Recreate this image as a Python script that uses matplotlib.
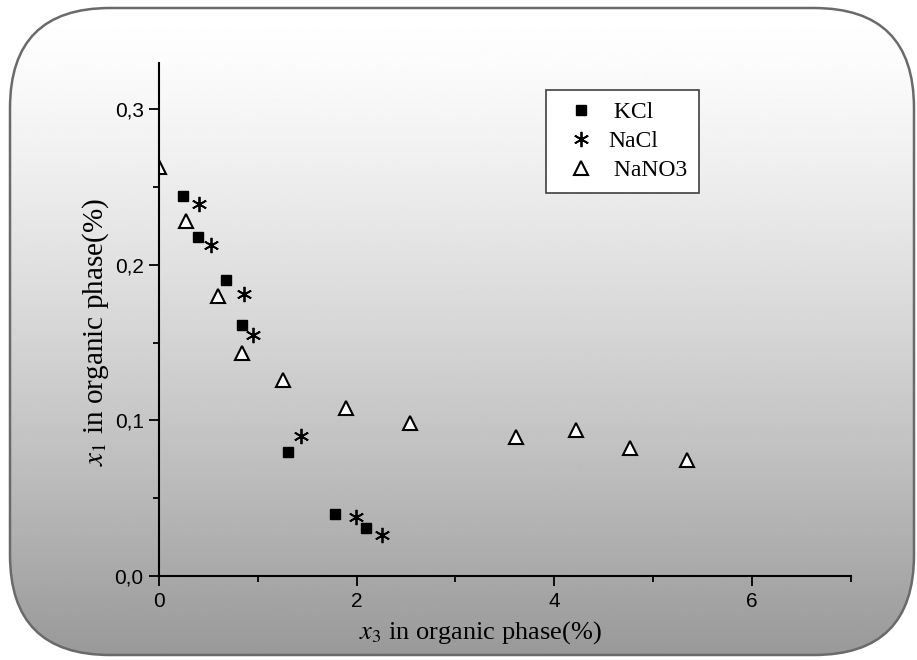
import numpy as np
import matplotlib
matplotlib.use("Agg")
import matplotlib.pyplot as plt
from matplotlib.patches import FancyBboxPatch
from matplotlib.ticker import FuncFormatter, MultipleLocator

# data (x3 %, x1 %)
kcl_x = [0.24, 0.39, 0.68, 0.84, 1.31, 1.78, 2.09]
kcl_y = [0.2445, 0.218, 0.190, 0.161, 0.0795, 0.040, 0.031]

nacl_x = [0.40, 0.53, 0.86, 0.95, 1.44, 1.99, 2.26]
nacl_y = [0.239, 0.213, 0.181, 0.155, 0.0897, 0.038, 0.026]

nano3_x = [0.0, 0.27, 0.60, 0.84, 1.26, 1.89, 2.54, 3.61, 4.22, 4.77, 5.34]
nano3_y = [0.263, 0.228, 0.180, 0.1435, 0.1257, 0.108, 0.0985, 0.0893, 0.094, 0.0822, 0.0743]

legend_labels = [" KCl", "NaCl", " NaNO3"]

plt.rcParams['mathtext.fontset'] = 'stix'

W, H = 917, 660
fig = plt.figure(figsize=(W / 100, H / 100), dpi=100)
fig.patch.set_facecolor('white')

# rounded frame with grey gradient
bg = fig.add_axes([0, 0, 1, 1])
bg.set_xlim(0, W)
bg.set_ylim(H, 0)
bg.axis('off')
t = np.linspace(0, 1, 256)
grad = (1.0 - 0.40 * t ** 1.3).reshape(-1, 1)
img = bg.imshow(grad, cmap='gray', vmin=0, vmax=1, extent=[10, 914, 655, 8],
                aspect='auto', interpolation='bilinear')
frame = FancyBboxPatch((10, 8), 904, 647, boxstyle="round,pad=0,rounding_size=100",
                       facecolor='none', edgecolor='#6a6a6a', linewidth=1.8)
bg.add_patch(frame)
img.set_clip_path(frame)

ax = fig.add_axes([0.1734, 0.1277, 0.7542, 0.7773])
ax.set_facecolor('none')

ax.plot(kcl_x, kcl_y, linestyle='none', marker='s', markersize=7.5,
        color='black', label=legend_labels[0])
ax.plot(nacl_x, nacl_y, linestyle='none', marker=(6, 2, 0), markersize=11,
        markeredgewidth=1.3, color='black', label=legend_labels[1])
ax.plot(nano3_x, nano3_y, linestyle='none', marker='^', markersize=9.5,
        markerfacecolor='white', markeredgecolor='black', markeredgewidth=1.5,
        label=legend_labels[2])

ax.set_xlim(0, 7)
ax.set_ylim(0, 0.33)
ax.xaxis.set_major_locator(MultipleLocator(2))
ax.xaxis.set_minor_locator(MultipleLocator(1))
ax.yaxis.set_major_locator(MultipleLocator(0.1))
ax.yaxis.set_minor_locator(MultipleLocator(0.05))

comma = FuncFormatter(lambda v, p: f"{v:.1f}".replace('.', ','))
ax.yaxis.set_major_formatter(comma)
ax.xaxis.set_major_formatter(FuncFormatter(lambda v, p: f"{v:.0f}"))

for s in ['top', 'right']:
    ax.spines[s].set_visible(False)
for s in ['left', 'bottom']:
    ax.spines[s].set_linewidth(1.5)

ax.tick_params(which='major', direction='out', length=7, width=1.3,
               labelsize=15, pad=4)
ax.tick_params(which='minor', direction='out', length=4, width=1.3)
ax.tick_params(axis='x', which='major', pad=5)
for tl in ax.get_xticklabels() + ax.get_yticklabels():
    tl.set_fontfamily('Liberation Sans')

ax.set_xlabel(r'$x_3$ in organic phase(%)', fontfamily='Liberation Serif', fontsize=19)
ax.set_ylabel(r'$x_1$ in organic phase(%)', fontfamily='Liberation Serif', fontsize=21)
ax.xaxis.set_label_coords(0.464, -0.085)
ax.yaxis.set_label_coords(-0.07, 0.475)

leg = ax.legend(loc='upper left', bbox_to_anchor=(0.559, 0.947), fancybox=False,
                framealpha=1, edgecolor='#404040', prop={'family': 'Liberation Serif', 'size': 17},
                handletextpad=0.15, labelspacing=0.32, borderpad=0.5, borderaxespad=0,
                handlelength=2.0)
leg.get_frame().set_linewidth(1.2)

fig.savefig('out.png', dpi=100)
